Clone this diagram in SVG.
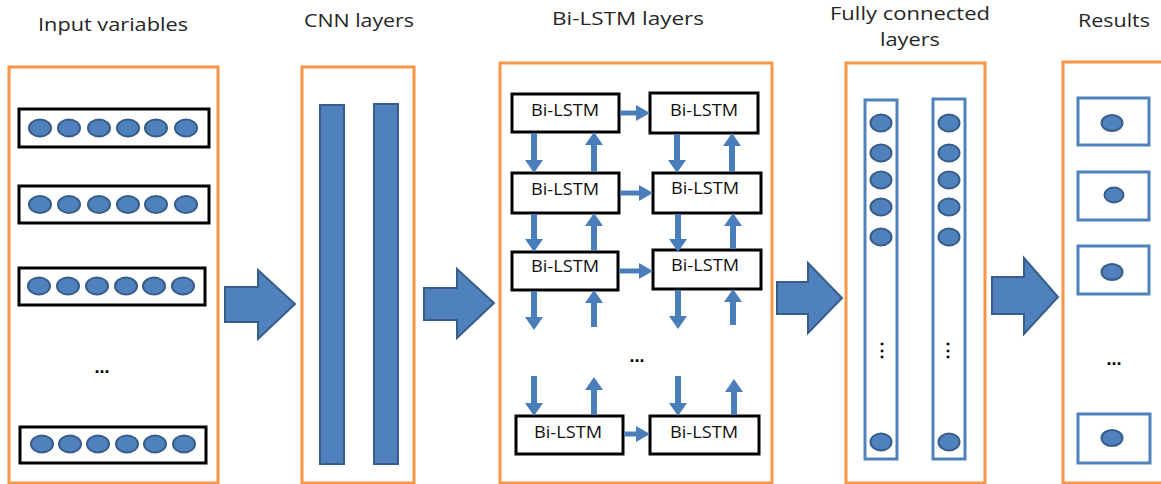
<svg xmlns="http://www.w3.org/2000/svg" width="1161" height="484" viewBox="0 0 1161 484">
<style>
.panel{fill:none;stroke:#F79646;stroke-width:3}
.title{font-family:"Open Sans","Liberation Sans",sans-serif;font-size:18.5px;fill:#262626;text-anchor:middle}
.row{fill:#fff;stroke:#000;stroke-width:3}
.dot{fill:#4F81BD;stroke:#385D8A;stroke-width:2}
.bar{fill:#4F81BD;stroke:#385D8A;stroke-width:2}
.big{fill:#4F81BD;stroke:#385D8A;stroke-width:2}
.box{fill:#fff;stroke:#000;stroke-width:3}
.lbl{font-family:"Open Sans","Liberation Sans",sans-serif;font-size:16px;fill:#111;text-anchor:middle}
.bbox{fill:#fff;stroke:#4F81BD;stroke-width:3}
.conn{stroke:#4A7EBB;stroke-width:6;fill:none;marker-end:url(#ah)}
.conh{stroke:#4A7EBB;stroke-width:5;fill:none;marker-end:url(#ah2)}
.ell{font-family:"Liberation Sans",sans-serif;font-size:18px;fill:#000;text-anchor:middle;font-weight:bold}
</style>
<defs>
<marker id="ah" markerUnits="userSpaceOnUse" markerWidth="14" markerHeight="18" refX="2" refY="9" orient="auto"><path d="M0,0 L13,9 L0,18 Z" fill="#4A7EBB"/></marker>
<marker id="ah2" markerUnits="userSpaceOnUse" markerWidth="15" markerHeight="16" refX="2" refY="8" orient="auto"><path d="M0,0 L14,8 L0,16 Z" fill="#4A7EBB"/></marker>
</defs>
<rect width="1161" height="484" fill="#fff"/>

<g id="titles">
<text class="title" x="113" y="31" textLength="150" lengthAdjust="spacingAndGlyphs">Input variables</text>
<text class="title" x="359" y="27" textLength="110" lengthAdjust="spacingAndGlyphs">CNN layers</text>
<text class="title" x="628" y="25" textLength="152" lengthAdjust="spacingAndGlyphs">Bi-LSTM layers</text>
<text class="title" x="910" y="20" textLength="160" lengthAdjust="spacingAndGlyphs">Fully connected</text>
<text class="title" x="910" y="46" textLength="60" lengthAdjust="spacingAndGlyphs">layers</text>
<text class="title" x="1114" y="27" textLength="72" lengthAdjust="spacingAndGlyphs">Results</text>
</g>

<g id="input">
<rect class="panel" x="9" y="67" width="209" height="416"/>
<g id="in1"><rect class="row" x="19" y="109" width="190" height="38"/>
<ellipse class="dot" cx="40" cy="128" rx="11" ry="8.5"/><ellipse class="dot" cx="69" cy="128" rx="11" ry="8.5"/><ellipse class="dot" cx="99" cy="128" rx="11" ry="8.5"/><ellipse class="dot" cx="128" cy="128" rx="11" ry="8.5"/><ellipse class="dot" cx="156" cy="128" rx="11" ry="8.5"/><ellipse class="dot" cx="186" cy="128" rx="11" ry="8.5"/></g>
<g id="in2"><rect class="row" x="19" y="186" width="190" height="37"/>
<ellipse class="dot" cx="40" cy="204.5" rx="11" ry="8.5"/><ellipse class="dot" cx="69" cy="204.5" rx="11" ry="8.5"/><ellipse class="dot" cx="99" cy="204.5" rx="11" ry="8.5"/><ellipse class="dot" cx="128" cy="204.5" rx="11" ry="8.5"/><ellipse class="dot" cx="156" cy="204.5" rx="11" ry="8.5"/><ellipse class="dot" cx="186" cy="204.5" rx="11" ry="8.5"/></g>
<g id="in3"><rect class="row" x="19" y="268" width="186" height="37"/>
<ellipse class="dot" cx="39" cy="286" rx="11" ry="8.5"/><ellipse class="dot" cx="68" cy="286" rx="11" ry="8.5"/><ellipse class="dot" cx="97" cy="286" rx="11" ry="8.5"/><ellipse class="dot" cx="126" cy="286" rx="11" ry="8.5"/><ellipse class="dot" cx="154" cy="286" rx="11" ry="8.5"/><ellipse class="dot" cx="183" cy="286" rx="11" ry="8.5"/></g>
<text class="ell" x="102" y="373">...</text>
<g id="in4"><rect class="row" x="20" y="427" width="186" height="36"/>
<ellipse class="dot" cx="42" cy="444" rx="11" ry="8.5"/><ellipse class="dot" cx="70" cy="444" rx="11" ry="8.5"/><ellipse class="dot" cx="98" cy="444" rx="11" ry="8.5"/><ellipse class="dot" cx="127" cy="444" rx="11" ry="8.5"/><ellipse class="dot" cx="155" cy="444" rx="11" ry="8.5"/><ellipse class="dot" cx="184" cy="444" rx="11" ry="8.5"/></g>
</g>

<g id="cnn">
<rect class="panel" x="302" y="67" width="112" height="416"/>
<rect class="bar" x="320" y="105" width="24" height="359"/>
<rect class="bar" x="374" y="104" width="24" height="360"/>
</g>

<g id="bilstm">
<rect class="panel" x="500" y="63" width="272" height="420"/>
<g id="b11"><rect class="box" x="512" y="94" width="107" height="38"/><text class="lbl" x="565" y="116" textLength="68" lengthAdjust="spacingAndGlyphs">Bi-LSTM</text></g>
<g id="b12"><rect class="box" x="650" y="93" width="108" height="40"/><text class="lbl" x="704" y="116" textLength="68" lengthAdjust="spacingAndGlyphs">Bi-LSTM</text></g>
<g id="b21"><rect class="box" x="512" y="173" width="107" height="40"/><text class="lbl" x="565" y="195" textLength="68" lengthAdjust="spacingAndGlyphs">Bi-LSTM</text></g>
<g id="b22"><rect class="box" x="653" y="173" width="108" height="40"/><text class="lbl" x="705" y="194" textLength="68" lengthAdjust="spacingAndGlyphs">Bi-LSTM</text></g>
<g id="b31"><rect class="box" x="512" y="252" width="106" height="38"/><text class="lbl" x="565" y="272" textLength="68" lengthAdjust="spacingAndGlyphs">Bi-LSTM</text></g>
<g id="b32"><rect class="box" x="653" y="250" width="108" height="39"/><text class="lbl" x="705" y="271" textLength="68" lengthAdjust="spacingAndGlyphs">Bi-LSTM</text></g>
<g id="b41"><rect class="box" x="516" y="416" width="107" height="38"/><text class="lbl" x="568" y="438" textLength="68" lengthAdjust="spacingAndGlyphs">Bi-LSTM</text></g>
<g id="b42"><rect class="box" x="650" y="416" width="109" height="38"/><text class="lbl" x="704" y="438" textLength="68" lengthAdjust="spacingAndGlyphs">Bi-LSTM</text></g>
<text class="ell" x="637" y="362">...</text>
</g>

<g id="fc">
<rect class="panel" x="846" y="63" width="139" height="420"/>
<rect class="bbox" x="865" y="100" width="32" height="359"/>
<rect class="bbox" x="933" y="99" width="32" height="360"/>
<ellipse class="dot" cx="881" cy="123" rx="10.5" ry="8.5"/><ellipse class="dot" cx="881" cy="153" rx="10.5" ry="8.5"/><ellipse class="dot" cx="881" cy="180" rx="10.5" ry="8.5"/><ellipse class="dot" cx="881" cy="207" rx="10.5" ry="8.5"/><ellipse class="dot" cx="881" cy="237" rx="10.5" ry="8.5"/><ellipse class="dot" cx="881" cy="442" rx="10.5" ry="8.5"/>
<ellipse class="dot" cx="949" cy="123" rx="10.5" ry="8.5"/><ellipse class="dot" cx="949" cy="153" rx="10.5" ry="8.5"/><ellipse class="dot" cx="949" cy="180" rx="10.5" ry="8.5"/><ellipse class="dot" cx="949" cy="207" rx="10.5" ry="8.5"/><ellipse class="dot" cx="949" cy="237" rx="10.5" ry="8.5"/><ellipse class="dot" cx="949" cy="442" rx="10.5" ry="8.5"/>
<text class="ell" x="882" y="356" font-size="15">⋮</text>
<text class="ell" x="948" y="356" font-size="15">⋮</text>
</g>

<g id="results">
<rect class="panel" x="1063" y="62" width="110" height="421"/>
<rect class="bbox" x="1078" y="98" width="71" height="47"/><ellipse class="dot" cx="1112" cy="123" rx="10.5" ry="8"/>
<rect class="bbox" x="1078" y="172" width="71" height="48"/><ellipse class="dot" cx="1114" cy="195" rx="9.5" ry="7.5"/>
<rect class="bbox" x="1078" y="246" width="71" height="48"/><ellipse class="dot" cx="1112" cy="272" rx="10.5" ry="8"/>
<text class="ell" x="1114" y="365">...</text>
<rect class="bbox" x="1078" y="414" width="72" height="49"/><ellipse class="dot" cx="1112" cy="438" rx="10.5" ry="8"/>
</g>

<g id="connectors">
<polygon class="big" points="225,287 258,287 258,270 295,304 258,339 258,322 225,322"/>
<polygon class="big" points="424,288 457,288 457,269 494,303 457,338 457,320 424,320"/>
<polygon class="big" points="777,282 808,282 808,263 842,298 808,333 808,314 777,314"/>
<polygon class="big" points="992,277 1024,277 1024,258 1058,297 1024,334 1024,314 992,314"/>

<line class="conh" x1="620" y1="113" x2="638" y2="113"/>
<line class="conh" x1="620" y1="193" x2="641" y2="193"/>
<line class="conh" x1="619" y1="271" x2="641" y2="271"/>
<line class="conh" x1="624" y1="434" x2="638" y2="434"/>

<line class="conn" x1="534" y1="133" x2="534" y2="162"/>
<line class="conn" x1="534" y1="214" x2="534" y2="241"/>
<line class="conn" x1="534" y1="291" x2="534" y2="319"/>
<line class="conn" x1="534" y1="376" x2="534" y2="405"/>
<line class="conn" x1="594" y1="172" x2="594" y2="143"/>
<line class="conn" x1="594" y1="251" x2="594" y2="224"/>
<line class="conn" x1="594" y1="327" x2="594" y2="301"/>
<line class="conn" x1="594" y1="415" x2="594" y2="388"/>

<line class="conn" x1="677" y1="134" x2="677" y2="162"/>
<line class="conn" x1="678" y1="214" x2="678" y2="241"/>
<line class="conn" x1="678" y1="290" x2="678" y2="318"/>
<line class="conn" x1="678" y1="376" x2="678" y2="405"/>
<line class="conn" x1="732" y1="172" x2="732" y2="144"/>
<line class="conn" x1="733" y1="249" x2="733" y2="224"/>
<line class="conn" x1="733" y1="325" x2="733" y2="300"/>
<line class="conn" x1="734" y1="415" x2="734" y2="390"/>
</g>
</svg>
